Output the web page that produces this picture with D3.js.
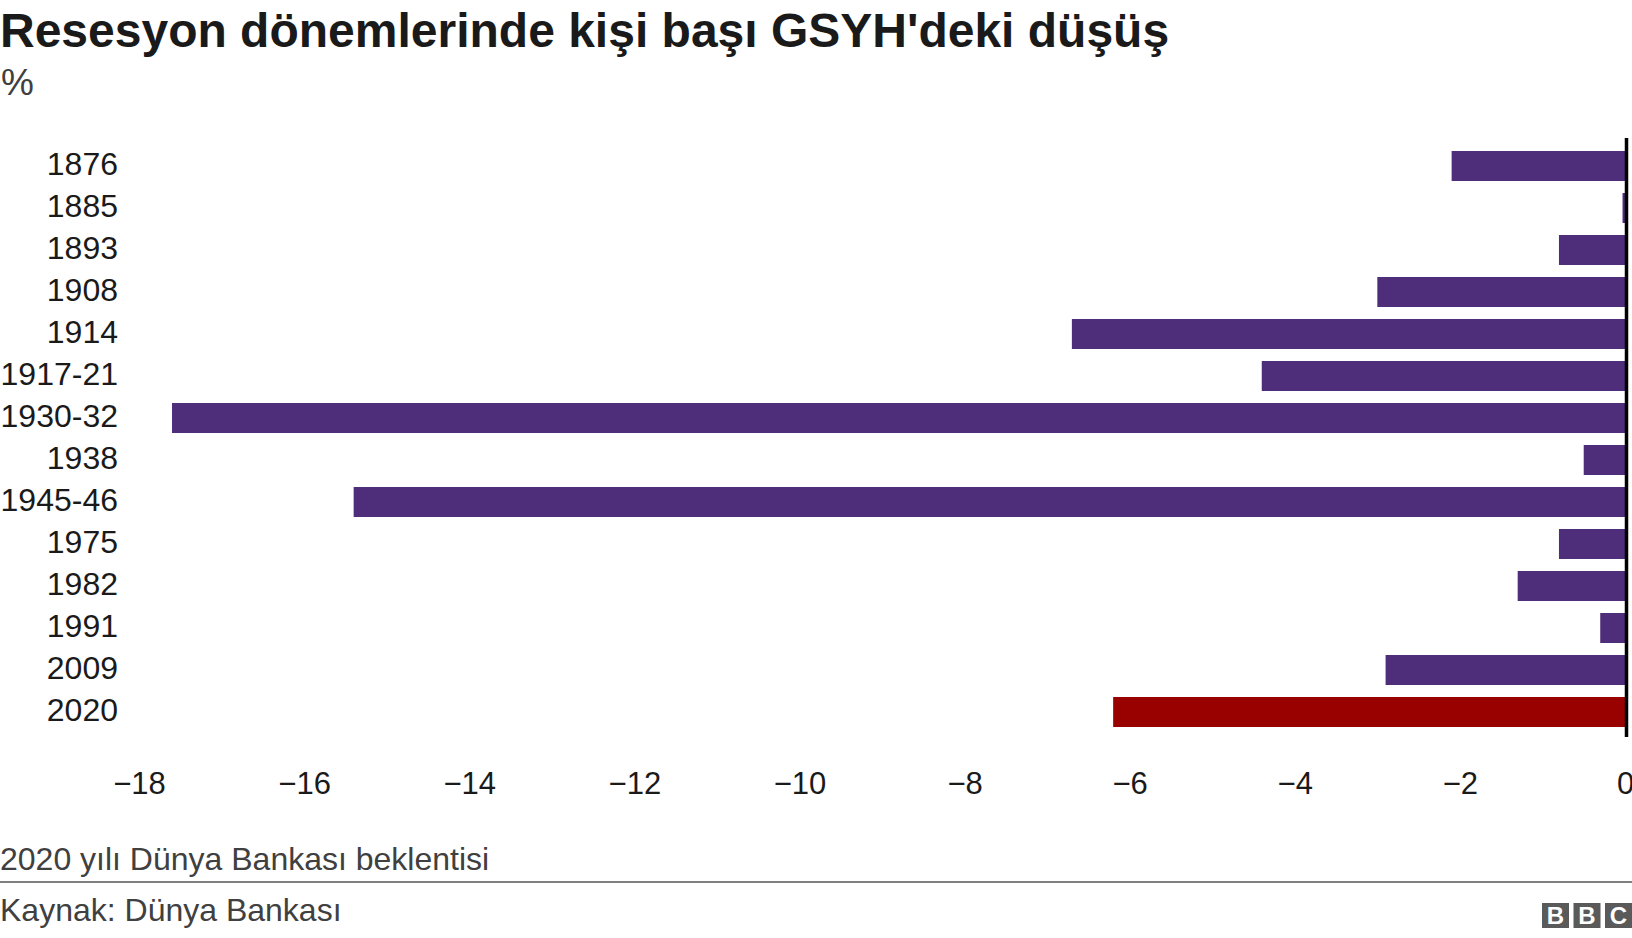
<!DOCTYPE html>
<html>
<head>
<meta charset="utf-8">
<script src="https://cdn.jsdelivr.net/npm/d3@7/dist/d3.min.js"></script>
<style>
  html, body { margin: 0; padding: 0; background: #fff; }
  svg { display: block; font-family: "Liberation Sans", Arial, Helvetica, sans-serif; }
</style>
</head>
<body>
<svg id="chart" width="1632" height="938"></svg>
<script>
const categories = ["1876","1885","1893","1908","1914","1917-21","1930-32","1938","1945-46","1975","1982","1991","2009","2020"];
const values = [-2.1, -0.03, -0.8, -3.0, -6.7, -4.4, -17.6, -0.5, -15.4, -0.8, -1.3, -0.3, -2.9, -6.2];
const highlight = ["2020"];
const xTicks = [-18, -16, -14, -12, -10, -8, -6, -4, -2, 0];
const titleText = "Resesyon dönemlerinde kişi başı GSYH'deki düşüş";
const subtitleText = "%";
const noteText = "2020 yılı Dünya Bankası beklentisi";
const sourceText = "Kaynak: Dünya Bankası";

const data = categories.map((c, i) => ({ cat: c, value: values[i] }));

const W = 1632, H = 938;
const svg = d3.select("#chart");

const x = d3.scaleLinear().domain([-18, 0]).range([139, 1625]);
const y = d3.scaleBand().domain(categories).range([145, 733])
  .paddingInner(12 / 42).paddingOuter(6 / 42);

// Title & subtitle
svg.append("text").attr("x", 0).attr("y", 47)
  .attr("font-size", 48).attr("font-weight", "bold").attr("fill", "#1a1a1a")
  .text(titleText);
svg.append("text").attr("x", 1).attr("y", 95)
  .attr("font-size", 37).attr("fill", "#404040")
  .text(subtitleText);

// Bars
svg.append("g").selectAll("rect").data(data).join("rect")
  .attr("x", d => x(Math.min(d.value, 0)))
  .attr("y", d => y(d.cat))
  .attr("width", d => Math.abs(x(d.value) - x(0)))
  .attr("height", y.bandwidth())
  .attr("fill", d => highlight.includes(d.cat) ? "#990000" : "#4e2d7a");

// Category labels
const yAxis = d3.axisLeft(y).tickSize(0).tickPadding(0);
const gy = svg.append("g").attr("transform", "translate(118,-1)").call(yAxis);
gy.select(".domain").remove();
gy.selectAll("text").attr("font-size", 32).attr("fill", "#1a1a1a")
  .attr("font-family", "'Liberation Sans', Arial, sans-serif");

// X axis tick labels
const xAxis = d3.axisBottom(x).tickValues(xTicks).tickSize(0).tickPadding(0)
  .tickFormat(d3.format("d"));
const gx = svg.append("g").attr("transform", "translate(0,772)").call(xAxis);
gx.select(".domain").remove();
gx.selectAll("text").attr("font-size", 31).attr("fill", "#1a1a1a")
  .attr("font-family", "'Liberation Sans', Arial, sans-serif");

// Zero line
svg.append("line")
  .attr("x1", x(0) + 1.5).attr("x2", x(0) + 1.5)
  .attr("y1", 138).attr("y2", 737)
  .attr("stroke", "#000").attr("stroke-width", 3.5);

// Footer
svg.append("text").attr("x", 0).attr("y", 870)
  .attr("font-size", 32).attr("fill", "#404040").text(noteText);
svg.append("rect").attr("x", 0).attr("y", 881).attr("width", W).attr("height", 2).attr("fill", "#808080");
svg.append("text").attr("x", 0).attr("y", 921)
  .attr("font-size", 32).attr("fill", "#404040").text(sourceText);

// BBC logo
const logo = svg.append("g");
["B", "B", "C"].forEach((ch, i) => {
  const bx = 1542 + i * 31.5;
  logo.append("rect").attr("x", bx).attr("y", 903).attr("width", 27).attr("height", 25).attr("fill", "#5a5a5a");
  logo.append("text").attr("x", bx + 13.5).attr("y", 924).attr("text-anchor", "middle")
    .attr("font-size", 24).attr("font-weight", "bold").attr("fill", "#fff").text(ch);
});
</script>
</body>
</html>
